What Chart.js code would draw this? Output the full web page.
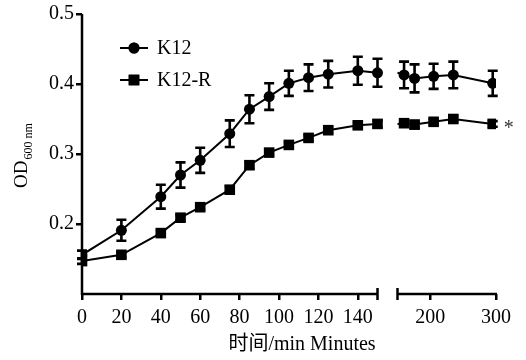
<!DOCTYPE html>
<html><head><meta charset="utf-8">
<script src="https://cdn.jsdelivr.net/npm/chart.js@4"></script>
<style>html,body{margin:0;padding:0;background:#fff}#wrap{width:526px;height:360px}</style>
</head><body><div id="wrap"><canvas id="c" width="526" height="360"></canvas></div>
<script>
// ---- data ----
const times   = [0, 20, 40, 50, 60, 75, 85, 95, 105, 115, 125, 140, 150, 160, 176, 205, 235, 295];
const k12     = [0.156, 0.191, 0.239, 0.270, 0.291, 0.329, 0.364, 0.382, 0.401, 0.409, 0.414, 0.419, 0.416, 0.413, 0.408, 0.411, 0.413, 0.401];
const k12Err  = [0.006, 0.015, 0.017, 0.018, 0.018, 0.019, 0.020, 0.019, 0.018, 0.019, 0.019, 0.020, 0.020, 0.019, 0.020, 0.018, 0.019, 0.018];
const k12r    = [0.147, 0.156, 0.187, 0.209, 0.224, 0.249, 0.284, 0.302, 0.313, 0.323, 0.334, 0.341, 0.343, 0.344, 0.342, 0.346, 0.350, 0.343];
const k12rErr = [0.004, 0.004, 0.004, 0.004, 0.004, 0.005, 0.005, 0.004, 0.004, 0.004, 0.004, 0.004, 0.005, 0.005, 0.005, 0.004, 0.004, 0.004];
const xTicks  = [0, 20, 40, 60, 80, 100, 120, 140, 200, 300];
const yTicks  = [0.2, 0.3, 0.4, 0.5];
const seriesNames = ['K12', 'K12-R'];

// broken x axis: 0-150 full scale, then gap, then 150-300 at 1/3 scale
const BREAK = 150, GAP = 10.15, S2 = 1/3, XMAX = 300;
const tx = x => x <= BREAK ? x : BREAK + GAP + (x - BREAK) * S2;
const seg2Start = BREAK + GAP;

function buildData(vals) {
  const out = [];
  times.forEach((t, i) => {
    out.push({x: tx(t), y: vals[i]});
    if (t === BREAK) {
      out.push({x: BREAK + GAP / 2, y: null});
      out.push({x: seg2Start, y: vals[i], dup: true});
    }
  });
  return out;
}

const SERIF = "'Liberation Serif','DejaVu Serif','Noto Sans CJK SC',serif";

const overlay = {
  id: 'overlay',
  afterDatasetsDraw(chart) {
    const ctx = chart.ctx, xs = chart.scales.x, ys = chart.scales.y;
    ctx.save();
    ctx.strokeStyle = '#000'; ctx.fillStyle = '#000';
    const drawErr = (vals, errs) => {
      ctx.lineWidth = 2.6;
      times.forEach((t, i) => {
        const px = xs.getPixelForValue(tx(t));
        const top = ys.getPixelForValue(vals[i] + errs[i]);
        const bot = ys.getPixelForValue(vals[i] - errs[i]);
        ctx.beginPath();
        ctx.moveTo(px, top); ctx.lineTo(px, bot);
        ctx.moveTo(px - 5, top); ctx.lineTo(px + 5, top);
        ctx.moveTo(px - 5, bot); ctx.lineTo(px + 5, bot);
        ctx.stroke();
      });
    };
    drawErr(k12, k12Err);
    drawErr(k12r, k12rErr);
    ctx.restore();
  },
  afterDraw(chart) {
    const ctx = chart.ctx, xs = chart.scales.x, ys = chart.scales.y;
    const area = chart.chartArea;
    ctx.save();
    ctx.strokeStyle = '#000'; ctx.fillStyle = '#000';
    // y axis line
    ctx.lineWidth = 2.5;
    ctx.beginPath();
    ctx.moveTo(area.left, ys.getPixelForValue(ys.max));
    ctx.lineTo(area.left, ys.getPixelForValue(ys.min) + 1);
    ctx.stroke();
    // broken x axis
    const yb = ys.getPixelForValue(ys.min);
    const a1 = xs.getPixelForValue(0), b1 = xs.getPixelForValue(BREAK);
    const a2 = xs.getPixelForValue(seg2Start), b2 = xs.getPixelForValue(tx(XMAX));
    ctx.beginPath();
    ctx.moveTo(a1 - 1, yb); ctx.lineTo(b1, yb);
    ctx.moveTo(a2, yb); ctx.lineTo(b2 + 1, yb);
    ctx.moveTo(b1, yb - 6); ctx.lineTo(b1, yb + 6);
    ctx.moveTo(a2, yb - 6); ctx.lineTo(a2, yb + 6);
    ctx.stroke();
    // legend
    const ds = chart.data.datasets;
    const legY = [48, 80];
    ds.forEach((d, i) => {
      const y = legY[i];
      ctx.lineWidth = 2;
      ctx.beginPath(); ctx.moveTo(120, y); ctx.lineTo(148, y); ctx.stroke();
      Chart.helpers.drawPoint(ctx, {pointStyle: d.pointStyle, radius: d.legendRadius, borderWidth: 0}, 134, y);
      ctx.fill();
      ctx.font = '20px ' + SERIF;
      ctx.textBaseline = 'middle'; ctx.textAlign = 'left';
      ctx.fillText(seriesNames[i], 157, y + 1);
    });
    // asterisk
    ctx.fillStyle = '#333';
    ctx.font = '20px ' + SERIF;
    ctx.textAlign = 'center'; ctx.textBaseline = 'middle';
    ctx.fillText('*', xs.getPixelForValue(tx(times[times.length - 1])) + 16, ys.getPixelForValue(k12r[k12r.length - 1]) + 5);
    // x title
    ctx.fillStyle = '#000';
    ctx.font = '20px ' + SERIF;
    ctx.textAlign = 'center'; ctx.textBaseline = 'middle';
    ctx.fillText('时间/min Minutes', 302, 345);
    // y title with subscript
    ctx.translate(22, 188);
    ctx.rotate(-Math.PI / 2);
    ctx.textAlign = 'left'; ctx.textBaseline = 'middle';
    ctx.font = '19px ' + SERIF;
    ctx.fillText('OD', 0, 0);
    const w = ctx.measureText('OD').width;
    ctx.font = '12px ' + SERIF;
    ctx.fillText('600 nm', w + 1, 7);
    ctx.restore();
  }
};

new Chart(document.getElementById('c'), {
  type: 'line',
  data: {
    datasets: [
      {label: seriesNames[0], data: buildData(k12), borderColor: '#000', backgroundColor: '#000', borderWidth: 2,
       pointStyle: 'circle', legendRadius: 5.5,
       pointRadius: c => (c.raw && c.raw.dup) ? 0 : 5.5, pointBorderWidth: 0, spanGaps: false, tension: 0},
      {label: seriesNames[1], data: buildData(k12r), borderColor: '#000', backgroundColor: '#000', borderWidth: 2,
       pointStyle: 'rect', legendRadius: 7.5,
       pointRadius: c => (c.raw && c.raw.dup) ? 0 : 7.5, pointBorderWidth: 0, spanGaps: false, tension: 0}
    ]
  },
  options: {
    responsive: false, animation: false, events: [],
    layout: {padding: {top: 14, right: 30, left: 0, bottom: 0}},
    plugins: {legend: {display: false}, tooltip: {enabled: false}},
    scales: {
      x: {
        type: 'linear', min: 0, max: tx(XMAX),
        afterFit: s => { s.height = 66; },
        afterBuildTicks: s => { s.ticks = xTicks.map(v => ({value: tx(v)})); },
        ticks: {
          autoSkip: false, maxRotation: 0, color: '#000', padding: 6,
          font: {family: SERIF, size: 20},
          callback: (v, i) => String(xTicks[i])
        },
        grid: {drawOnChartArea: false, drawTicks: true, tickLength: 6, color: '#000', lineWidth: 2.5},
        border: {display: false}
      },
      y: {
        type: 'linear', min: 0.1, max: 0.5,
        afterFit: s => { s.width = 82; },
        afterBuildTicks: s => { s.ticks = yTicks.map(v => ({value: v})); },
        ticks: {color: '#000', padding: 2, font: {family: SERIF, size: 20}, callback: v => v.toFixed(1)},
        grid: {drawOnChartArea: false, drawTicks: true, tickLength: 6, color: '#000', lineWidth: 2.5},
        border: {display: false}
      }
    }
  },
  plugins: [overlay]
});
</script>
</body></html>
